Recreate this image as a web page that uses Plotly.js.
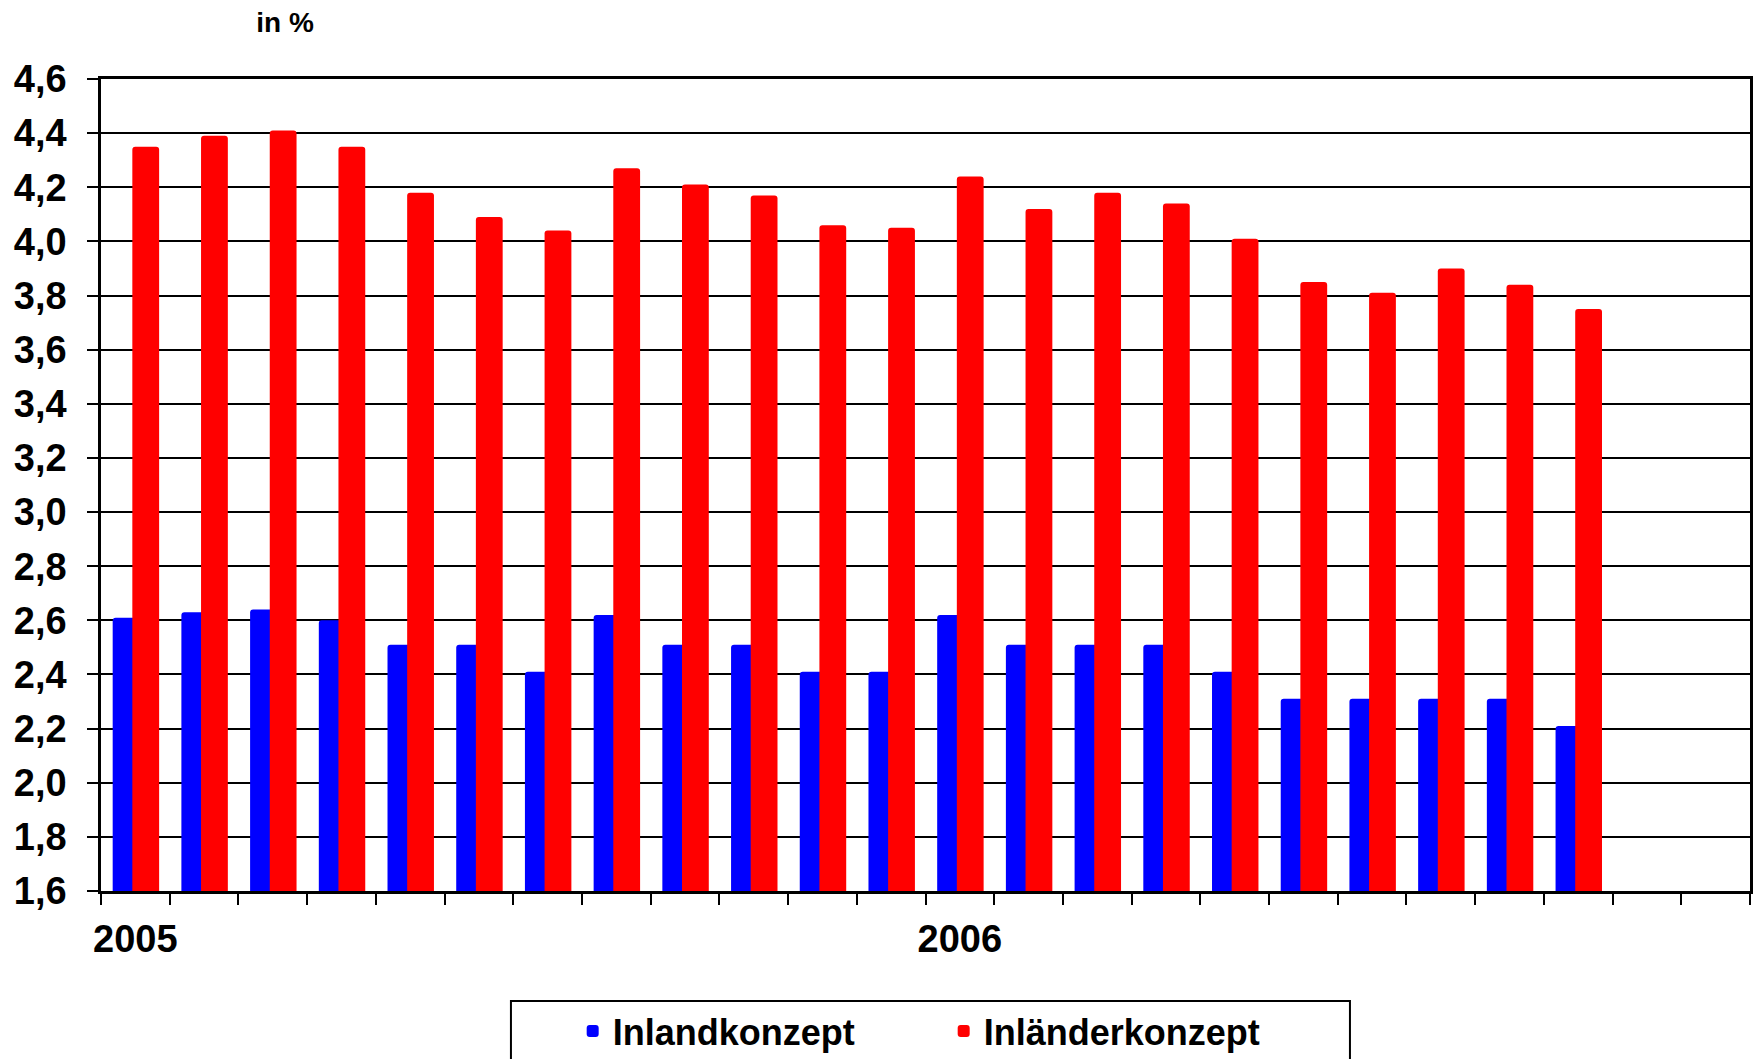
<!DOCTYPE html>
<html>
<head>
<meta charset="utf-8">
<script src="https://cdn.plot.ly/plotly-3.0.1.min.js"></script>
<style>
  body { margin: 0; background: #fff; }
  #chart { width: 1754px; height: 1059px; }
</style>
</head>
<body>
<div id="chart"></div>
<script>
// Monate Jan 2005 - Dez 2006
var monate = ['Jan 05', 'Feb 05', 'Mär 05', 'Apr 05', 'Mai 05', 'Jun 05', 'Jul 05', 'Aug 05', 'Sep 05', 'Okt 05', 'Nov 05', 'Dez 05',
  'Jan 06', 'Feb 06', 'Mär 06', 'Apr 06', 'Mai 06', 'Jun 06', 'Jul 06', 'Aug 06', 'Sep 06', 'Okt 06', 'Nov 06', 'Dez 06'];
var beschriftung = ['2005', '', '', '', '', '', '', '', '', '', '', '',
  '2006', '', '', '', '', '', '', '', '', '', '', ''];

// Werte in %
var inlandkonzept = [2.61, 2.63, 2.64, 2.60, 2.51, 2.51, 2.41, 2.62, 2.51, 2.51, 2.41, 2.41,
  2.62, 2.51, 2.51, 2.51, 2.41, 2.31, 2.31, 2.31, 2.31, 2.21];
var inlaenderkonzept = [4.35, 4.39, 4.41, 4.35, 4.18, 4.09, 4.04, 4.27, 4.21, 4.17, 4.06, 4.05,
  4.24, 4.12, 4.18, 4.14, 4.01, 3.85, 3.81, 3.90, 3.84, 3.75];

var schrift = { family: 'Arial, "Liberation Sans", sans-serif', color: '#000', weight: 'bold' };

var trace1 = {
  x: monate.slice(0, inlandkonzept.length),
  y: inlandkonzept,
  name: 'Inlandkonzept',
  type: 'bar',
  width: 0.39,
  offset: -0.33,
  marker: { color: '#0000ff' }
};

var trace2 = {
  x: monate.slice(0, inlaenderkonzept.length),
  y: inlaenderkonzept,
  name: 'Inländerkonzept',
  type: 'bar',
  width: 0.39,
  offset: -0.044,
  marker: { color: '#ff0000' }
};

var layout = {
  width: 1754,
  height: 1059,
  margin: { l: 101, r: 4, t: 79, b: 168 },
  paper_bgcolor: '#fff',
  plot_bgcolor: '#fff',
  barmode: 'overlay',
  barcornerradius: 3,
  separators: ',.',
  font: schrift,
  title: {
    text: 'in %',
    font: Object.assign({}, schrift, { size: 28 }),
    xref: 'container', yref: 'container',
    x: 0.1625, xanchor: 'center',
    y: 0.979, yanchor: 'middle'
  },
  xaxis: {
    type: 'category',
    categoryorder: 'array',
    categoryarray: monate,
    range: [-0.5, 23.5],
    tickmode: 'array',
    tickvals: monate,
    ticktext: beschriftung,
    tickangle: 0,
    tickson: 'boundaries',
    ticks: 'outside',
    ticklen: 11,
    tickwidth: 2,
    tickcolor: '#000',
    ticklabelstandoff: 13,
    tickfont: Object.assign({}, schrift, { size: 38 }),
    showgrid: false,
    showline: true,
    linecolor: '#000',
    linewidth: 2.5,
    mirror: true,
    automargin: false
  },
  yaxis: {
    range: [1.6, 4.6],
    dtick: 0.2,
    tick0: 1.6,
    tickformat: '.1f',
    ticks: 'outside',
    ticklen: 11,
    tickwidth: 2,
    tickcolor: '#000',
    ticklabelstandoff: 13,
    tickfont: Object.assign({}, schrift, { size: 38 }),
    showgrid: true,
    gridcolor: '#000',
    gridwidth: 2,
    showline: true,
    linecolor: '#000',
    linewidth: 2.5,
    mirror: true,
    zeroline: false,
    automargin: false
  },
  showlegend: true,
  legend: {
    orientation: 'h',
    xref: 'container', yref: 'container',
    x: 0.3265, xanchor: 'left',
    y: 0.0264, yanchor: 'middle',
    entrywidth: 326,
    bgcolor: 'rgba(0,0,0,0)',
    borderwidth: 0,
    font: Object.assign({}, schrift, { size: 36 })
  },
  // Rahmen um die Legende
  shapes: [{
    type: 'rect',
    xref: 'paper', yref: 'paper',
    x0: 0.2486, x1: 0.7574,
    y0: -0.23, y1: -0.1356,
    line: { color: '#000', width: 2 },
    fillcolor: 'rgba(0,0,0,0)'
  }]
};

Plotly.newPlot('chart', [trace1, trace2], layout, { displayModeBar: false });
</script>
</body>
</html>
